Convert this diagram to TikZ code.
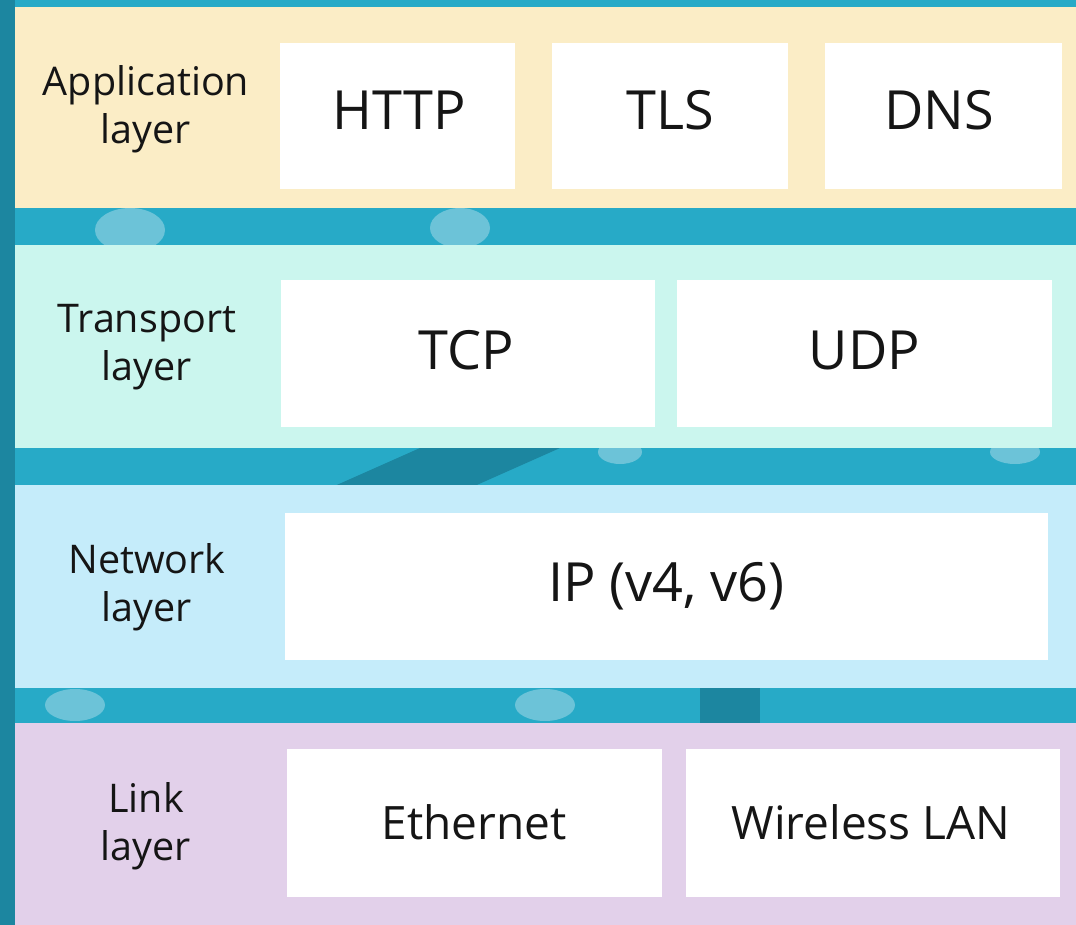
\documentclass[tikz,border=0pt]{standalone}
\usepackage{fontspec}
\setmainfont{Open Sans}
\definecolor{bgteal}{HTML}{27AAC7}
\definecolor{bgdark}{HTML}{1C86A0}
\definecolor{bglight}{HTML}{6CC3D8}
\definecolor{appcol}{HTML}{FBEDC6}
\definecolor{trancol}{HTML}{CBF6EE}
\definecolor{netcol}{HTML}{C5ECFA}
\definecolor{linkcol}{HTML}{E2D0EA}
\definecolor{txt}{HTML}{151515}
\begin{document}
\begin{tikzpicture}[x=1pt,y=-1pt,
  band/.style={draw=none},
  protobox/.style={fill=white,draw=none},
  prototext/.style={font=\fontsize{46}{50}\selectfont,text=txt},
  bigtext/.style={font=\fontsize{54}{58}\selectfont,text=txt},
  layertext/.style={font=\fontsize{39.5}{48}\selectfont,text=txt,align=center}]
\useasboundingbox (0,0) rectangle (1076,925);
% background
\fill[bgteal] (0,0) rectangle (1076,925);
\fill[bgdark] (0,0) rectangle (15,925);
\fill[bgdark] (330,488) -- (420,448) -- (560,448) -- (470,488) -- cycle;
\fill[bgdark] (700,688) rectangle (760,724);
\fill[bglight] (130,230) ellipse (35 and 22);
\fill[bglight] (460,228) ellipse (30 and 20);
\fill[bglight] (75,705) ellipse (30 and 16);
\fill[bglight] (545,705) ellipse (30 and 16);
\fill[bglight] (620,452) ellipse (22 and 12);
\fill[bglight] (1015,452) ellipse (25 and 12);
% bands
\fill[band,appcol] (15,7) rectangle (1076,208);
\fill[band,trancol] (15,245) rectangle (1076,448);
\fill[band,netcol] (15,485) rectangle (1076,688);
\fill[band,linkcol] (15,723) rectangle (1076,925);
% layer labels
\node[layertext] (lapp) at (146,109) {Application\\layer};
\node[layertext] (ltran) at (147,347) {Transport\\layer};
\node[layertext] (lnet) at (147,587) {Network\\layer};
\node[layertext] (llink) at (146,826) {Link\\layer};
% application protocols
\fill[protobox] (280,43) rectangle (515,189);
\node[bigtext] (http) at (399,110) {HTTP};
\fill[protobox] (552,43) rectangle (788,189);
\node[bigtext] (tls) at (670,110) {TLS};
\fill[protobox] (825,43) rectangle (1062,189);
\node[bigtext] (dns) at (939,110) {DNS};
% transport
\fill[protobox] (281,280) rectangle (655,427);
\node[bigtext] (tcp) at (466,350) {TCP};
\fill[protobox] (677,280) rectangle (1052,427);
\node[bigtext] (udp) at (864.5,350) {UDP};
% network
\fill[protobox] (285,513) rectangle (1048,660);
\node[bigtext] (ip) at (666.5,586) {IP (v4, v6)};
% link
\fill[protobox] (287,749) rectangle (662,897);
\node[prototext] (eth) at (474,822) {Ethernet};
\fill[protobox] (686,749) rectangle (1060,897);
\node[prototext] (wlan) at (871,822) {Wireless LAN};
\end{tikzpicture}
\end{document}
